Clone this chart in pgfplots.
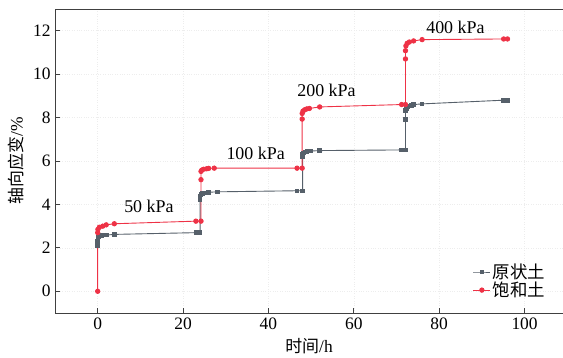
\documentclass[border=0pt]{standalone}
\usepackage{pgfplots}
\pgfplotsset{compat=1.18}
\usepackage{fontspec}
\setmainfont{Liberation Serif}
\newfontfamily\cjk{Noto Sans CJK SC}
\definecolor{sgray}{HTML}{56606A}
\definecolor{sred}{HTML}{EE3246}
\begin{document}
\begin{tikzpicture}[font=\fontsize{17.5}{20}\selectfont]
\begin{axis}[
  scale only axis,
  width=508bp, height=304bp,
  xmin=-10, xmax=109, ymin=-1, ymax=13,
  xtick={0,20,40,60,80,100}, ytick={0,2,4,6,8,10,12},
  /pgf/number format/assume math mode=true,
  axis x line=box, axis y line*=left,
  xtick pos=bottom, ytick pos=left,
  tick align=inside, major tick length=5bp,
  axis line style={color=black!75, line width=0.9pt},
  every tick/.style={color=black!75, line width=0.9pt},
  xticklabel style={yshift=-1bp},
  yticklabel style={xshift=-1bp},
  grid=major, major grid style={dotted, color=black!7, line width=0.5pt},
  xlabel={{\cjk\fontsize{17}{20}\selectfont 时间}/h}, ylabel={{\cjk\fontsize{17}{20}\selectfont 轴向应变}/\%},
  xlabel style={yshift=-2bp},
  ylabel style={yshift=2bp},
  legend style={at={(0.975,0.035)}, anchor=south east, draw=none, fill=none,
    font=\cjk\fontsize{17.5}{19}\selectfont, row sep=-2bp},
  legend cell align=left,
]
\addplot[color=sgray, line width=0.9pt, mark=square*, mark size=1.8pt] coordinates {
(0,2.09) (0,2.2) (0,2.3) (0.05,2.4) (0.1,2.47) (0.3,2.52) (0.6,2.55) (1,2.57) (2,2.59) (3.9,2.62)
(23,2.70) (24,2.70) (24,4.22) (24,4.37) (24.2,4.45) (24.5,4.5) (25,4.53) (26,4.56) (28,4.58)
(46.7,4.63) (48,4.63) (48,6.2) (48,6.33) (48.2,6.38) (48.6,6.41) (49,6.43) (50,6.46) (52,6.48)
(71.2,6.51) (72.1,6.51) (72.1,7.91) (72.1,8.34) (72.3,8.42) (72.7,8.5) (73.5,8.56) (74,8.6) (76,8.63)
(95.1,8.8) (96,8.8)
};
\addlegendentry{原状土}
\addplot[color=sred, line width=0.9pt, mark=*, mark size=2.2pt] coordinates {
(0,0) (0,2.7) (0.05,2.85) (0.4,2.95) (1.2,3.0) (2,3.06) (3.9,3.11)
(23,3.23) (24.2,3.23) (24.2,5.14) (24.2,5.52) (24.4,5.58) (24.8,5.62) (25.5,5.64) (26,5.66) (27.3,5.67)
(46.7,5.67) (47.9,5.67) (47.9,7.93) (47.9,8.19) (48.1,8.3) (48.5,8.36) (49,8.4) (49.6,8.42) (52,8.49)
(71.2,8.6) (72.1,8.6) (72.1,10.7) (72.1,11.08) (72.2,11.3) (72.5,11.42) (73,11.48) (74,11.53) (76,11.59)
(95.1,11.62) (96,11.62)
};
\addlegendentry{饱和土}
\node[font=\fontsize{18}{20}\selectfont] at (axis cs:12,3.9) {50 kPa};
\node[font=\fontsize{18}{20}\selectfont] at (axis cs:37,6.37) {100 kPa};
\node[font=\fontsize{18}{20}\selectfont] at (axis cs:53.6,9.27) {200 kPa};
\node[font=\fontsize{18}{20}\selectfont] at (axis cs:83.8,12.15) {400 kPa};
\end{axis}
\pgfresetboundingbox
\useasboundingbox ([shift={(-55bp,-45bp)}]current axis.south west) rectangle ([shift={(0bp,9bp)}]current axis.north east);
\end{tikzpicture}
\end{document}
